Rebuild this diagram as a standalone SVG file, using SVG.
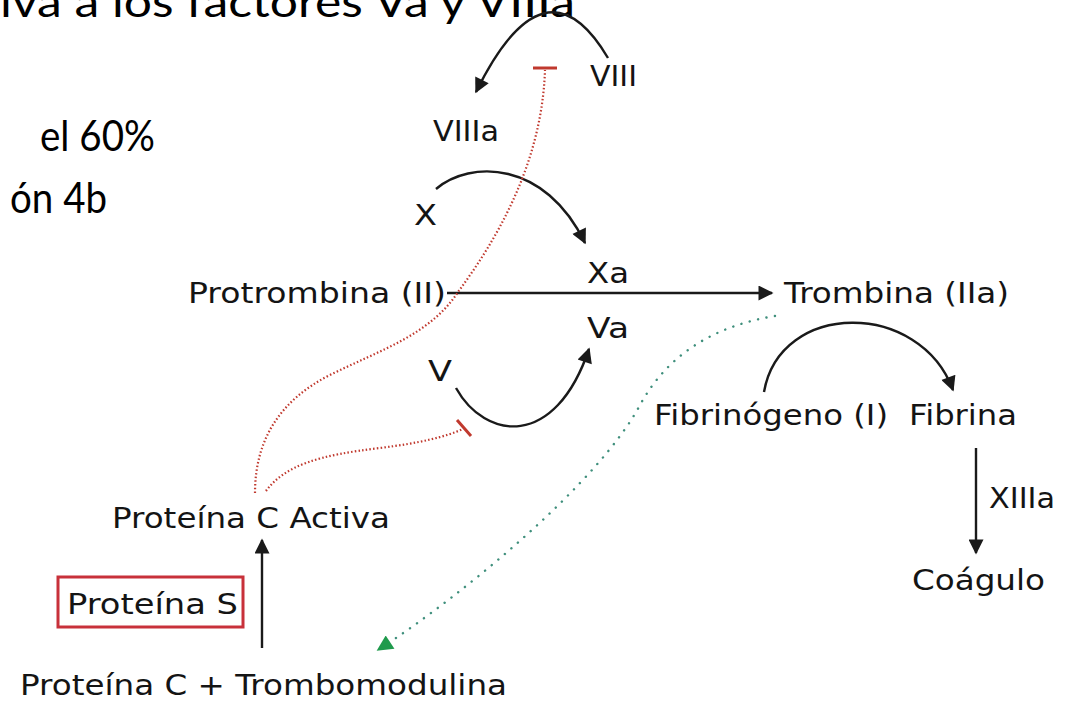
<svg xmlns="http://www.w3.org/2000/svg" width="1072" height="701" viewBox="0 0 1072 701">
  <defs>
    <marker id="arrow" viewBox="0 0 10 10" refX="9" refY="5" markerUnits="userSpaceOnUse" markerWidth="18" markerHeight="15" orient="auto">
      <path d="M0,0 L10,5 L0,10 z" fill="#1a1a1a"/>
    </marker>
    <marker id="arrow-green" viewBox="0 0 10 10" refX="9" refY="5" markerUnits="userSpaceOnUse" markerWidth="19" markerHeight="16" orient="auto">
      <path d="M0,0 L10,5 L0,10 z" fill="#1f9a4c"/>
    </marker>
  </defs>
  <style>
    .slide { font-family: Lato, "Open Sans", sans-serif; font-size: 42px; fill: #000; }
    .lbl { font-family: "DejaVu Sans", Verdana, sans-serif; font-size: 29px; fill: #141414; }
    .flow { fill: none; stroke: #1a1a1a; stroke-width: 2.4; marker-end: url(#arrow); }
    .inhib { fill: none; stroke: #c0392e; stroke-width: 2.2; stroke-dasharray: 1.5 2.2; }
    .bar { stroke: #c0392e; stroke-width: 3; }
    .feedback { fill: none; stroke: #3f8f7c; stroke-width: 2.4; stroke-linecap: round; stroke-dasharray: 0.1 8.5; marker-end: url(#arrow-green); }
  </style>
  <rect width="1072" height="701" fill="#ffffff"/>

  <!-- slide text behind the diagram -->
  <g id="slide-text">
    <text class="slide" x="0" y="17" font-size="44" textLength="575" lengthAdjust="spacingAndGlyphs">iva a los factores Va y VIIIa</text>
    <text class="slide" x="40" y="151" textLength="115" lengthAdjust="spacingAndGlyphs">el 60%</text>
    <text class="slide" x="10" y="213" textLength="97" lengthAdjust="spacingAndGlyphs">ón 4b</text>
  </g>

  <!-- connectors -->
  <g id="connectors">
    <path class="flow" d="M608,58 Q545,-48 476,92"/>
    <path class="flow" d="M436,189 C470,160 545,160 585,243"/>
    <path class="flow" d="M456,388 C485,440 555,450 589,349"/>
    <path class="flow" d="M447,293 L772,293"/>
    <path class="flow" d="M764,392 C780,300 920,300 953,390"/>
    <path class="flow" d="M976,448 L976,553"/>
    <path class="flow" d="M262,648 L262,540"/>
    <!-- inhibition by activated protein C -->
    <path class="inhib" d="M255,493 C255,440 280,400 330,375 C380,350 430,335 458,292 C500,235 542,160 545,70"/>
    <line class="bar" x1="533" y1="68" x2="557" y2="68"/>
    <path class="inhib" d="M266,491 C285,465 320,455 380,448 C420,443 445,437 463,429"/>
    <line class="bar" x1="457" y1="420" x2="471" y2="436"/>
    <!-- thrombin feedback -->
    <path class="feedback" d="M775,316 C720,325 670,350 640,405 C600,480 470,590 378,650"/>
  </g>

  <g id="n-viii"><text class="lbl" x="590" y="86" textLength="47" lengthAdjust="spacingAndGlyphs">VIII</text></g>
  <g id="n-viiia"><text class="lbl" x="433" y="141" textLength="66" lengthAdjust="spacingAndGlyphs">VIIIa</text></g>
  <g id="n-x"><text class="lbl" x="414" y="225" textLength="23" lengthAdjust="spacingAndGlyphs">X</text></g>
  <g id="n-xa"><text class="lbl" x="587" y="283" textLength="42" lengthAdjust="spacingAndGlyphs">Xa</text></g>
  <g id="n-protrombina"><text class="lbl" x="188" y="303" textLength="258" lengthAdjust="spacingAndGlyphs">Protrombina (II)</text></g>
  <g id="n-trombina"><text class="lbl" x="784" y="303" textLength="225" lengthAdjust="spacingAndGlyphs">Trombina (IIa)</text></g>
  <g id="n-va"><text class="lbl" x="587" y="338" textLength="42" lengthAdjust="spacingAndGlyphs">Va</text></g>
  <g id="n-v"><text class="lbl" x="428" y="381" textLength="24" lengthAdjust="spacingAndGlyphs">V</text></g>
  <g id="n-fibrinogeno"><text class="lbl" x="654" y="425" textLength="234" lengthAdjust="spacingAndGlyphs">Fibrinógeno (I)</text></g>
  <g id="n-fibrina"><text class="lbl" x="909" y="425" textLength="108" lengthAdjust="spacingAndGlyphs">Fibrina</text></g>
  <g id="n-xiiia"><text class="lbl" x="989" y="508" textLength="66" lengthAdjust="spacingAndGlyphs">XIIIa</text></g>
  <g id="n-coagulo"><text class="lbl" x="912" y="590" textLength="133" lengthAdjust="spacingAndGlyphs">Coágulo</text></g>
  <g id="n-pca"><text class="lbl" x="112" y="528" textLength="278" lengthAdjust="spacingAndGlyphs">Proteína C Activa</text></g>
  <g id="n-ps">
    <rect x="58" y="577" width="185" height="50" fill="none" stroke="#c8313a" stroke-width="3"/>
    <text class="lbl" x="67" y="614" textLength="171" lengthAdjust="spacingAndGlyphs">Proteína S</text>
  </g>
  <g id="n-pc-tm"><text class="lbl" x="20" y="695" textLength="487" lengthAdjust="spacingAndGlyphs">Proteína C + Trombomodulina</text></g>
</svg>
